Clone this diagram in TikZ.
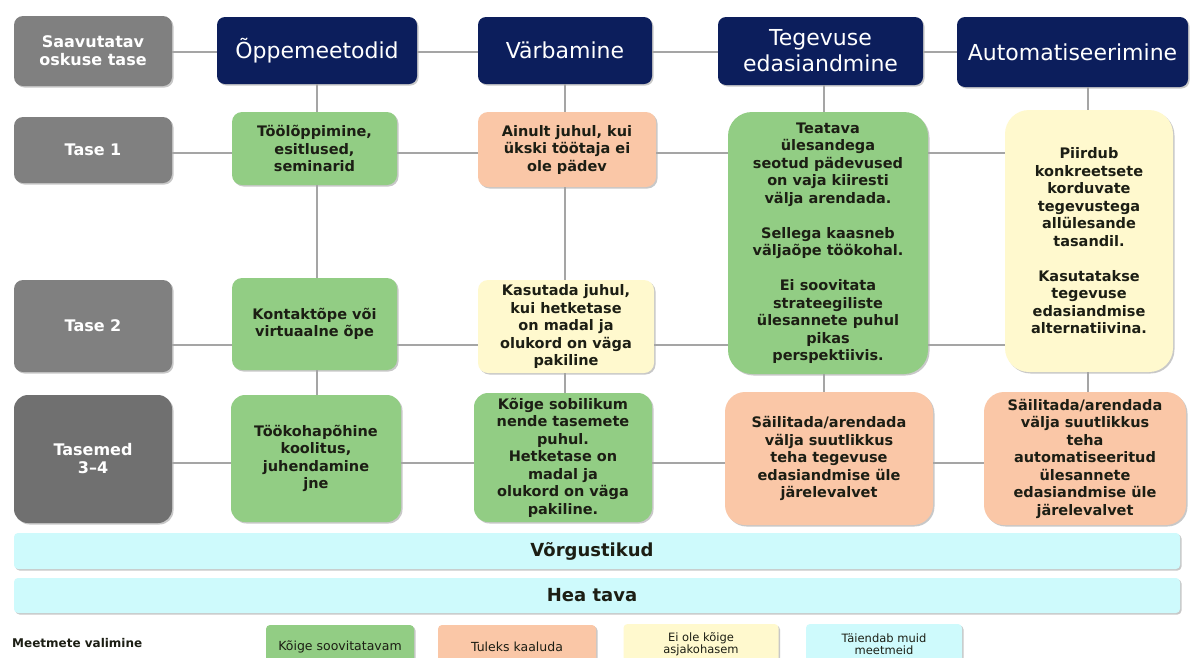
\documentclass[tikz,border=0pt]{standalone}
\usepackage{fontspec}
\setmainfont{DejaVu Sans}
\usetikzlibrary{shadows}
\definecolor{gbox}{RGB}{128,128,128}
\definecolor{gboxd}{RGB}{112,112,112}
\definecolor{navy}{RGB}{12,30,92}
\definecolor{cgr}{RGB}{146,205,132}
\definecolor{cpe}{RGB}{250,199,167}
\definecolor{cye}{RGB}{255,249,206}
\definecolor{ccy}{RGB}{206,250,252}
\definecolor{linec}{RGB}{165,165,165}
\definecolor{txt}{RGB}{28,30,20}
\begin{document}
\begin{tikzpicture}[x=1pt,y=-1pt,
  shad/.style={drop shadow={shadow xshift=1.5pt,shadow yshift=-1.5pt,opacity=0.3,fill=black!70}},
  lbl/.style={shad,rounded corners=9pt,fill=gbox,text=white,font=\bfseries\fontsize{16}{18}\selectfont,align=center,inner sep=0pt},
  hdr/.style={shad,rounded corners=8pt,fill=navy,text=white,font=\fontsize{22}{26}\selectfont,align=center,inner sep=0pt},
  cell/.style={shad,rounded corners=10pt,font=\bfseries\fontsize{14.5}{17.5}\selectfont,text=txt,align=center,inner sep=0pt},
  cellg/.style={cell,fill=cgr},
  cellp/.style={cell,fill=cpe},
  celly/.style={cell,fill=cye},
  bar/.style={shad,rounded corners=4pt,fill=ccy,text=txt,font=\bfseries\fontsize{18}{20}\selectfont,inner sep=0pt},
  leg/.style={shad,rounded corners=4pt,text=txt,font=\fontsize{12.5}{13}\selectfont,align=center,inner sep=0pt},
  leg2/.style={leg,font=\fontsize{11.5}{11.5}\selectfont},
  conn/.style={draw=linec,line width=1.4pt}]
\useasboundingbox (0,0) rectangle (1193,657);
\clip (0,0) rectangle (1193,657);
\fill[white] (0,0) rectangle (1193,657);

% row labels
\node[lbl,minimum width=158pt,minimum height=70pt] (g0) at (93,51) {Saavutatav\\oskuse tase};
\node[lbl,minimum width=158pt,minimum height=66pt] (g1) at (93,150) {Tase 1};
\node[lbl,minimum width=158pt,minimum height=92pt] (g2) at (93,326) {Tase 2};
\node[lbl,fill=gboxd,rounded corners=14pt,minimum width=158pt,minimum height=128pt] (g3) at (93,459) {Tasemed\\3--4};

% headers
\node[hdr,minimum width=200pt,minimum height=67pt] (h1) at (317,50.5) {Õppemeetodid};
\node[hdr,minimum width=174pt,minimum height=67pt] (h2) at (565,50.5) {Värbamine};
\node[hdr,minimum width=205pt,minimum height=68pt] (h3) at (820.5,51) {Tegevuse\\edasiandmine};
\node[hdr,minimum width=231pt,minimum height=70pt] (h4) at (1072.5,52) {Automatiseerimine};

% column 1
\node[cellg,minimum width=165pt,minimum height=73pt] (c11) at (314.5,148.5) {Töölõppimine,\\esitlused,\\seminarid};
\node[cellg,minimum width=165pt,minimum height=92pt] (c12) at (314.5,324) {Kontaktõpe või\\virtuaalne õpe};
\node[cellg,rounded corners=14pt,minimum width=170pt,minimum height=127pt] (c13) at (316,458.5) {Töökohapõhine\\koolitus,\\juhendamine\\jne};

% column 2
\node[cellp,minimum width=178pt,minimum height=75pt] (c21) at (567,149.5) {Ainult juhul, kui\\ükski töötaja ei\\ole pädev};
\node[celly,minimum width=176pt,minimum height=93pt] (c22) at (566,326.5) {Kasutada juhul,\\kui hetketase\\on madal ja\\olukord on väga\\pakiline};
\node[cellg,rounded corners=14pt,minimum width=178pt,minimum height=129pt] (c23) at (563,457.5) {Kõige sobilikum\\nende tasemete\\puhul.\\Hetketase on\\madal ja\\olukord on väga\\pakiline.};

% column 3
\node[cellg,rounded corners=24pt,minimum width=200pt,minimum height=262pt] (c31) at (828,243) {Teatava\\ülesandega\\seotud pädevused\\on vaja kiiresti\\välja arendada.\\[17.5pt]Sellega kaasneb\\väljaõpe töökohal.\\[17.5pt]Ei soovitata\\strateegiliste\\ülesannete puhul\\pikas\\perspektiivis.};
\node[cellp,rounded corners=20pt,minimum width=208pt,minimum height=133pt] (c33) at (829,458.5) {Säilitada/arendada\\välja suutlikkus\\teha tegevuse\\edasiandmise üle\\järelevalvet};

% column 4
\node[celly,rounded corners=24pt,minimum width=168pt,minimum height=262pt] (c41) at (1089,241) {Piirdub\\konkreetsete\\korduvate\\tegevustega\\allülesande\\tasandil.\\[17.5pt]Kasutatakse\\tegevuse\\edasiandmise\\alternatiivina.};
\node[cellp,rounded corners=20pt,minimum width=202pt,minimum height=133pt] (c43) at (1085,458.5) {Säilitada/arendada\\välja suutlikkus\\teha\\automatiseeritud\\ülesannete\\edasiandmise üle\\järelevalvet};

% row coordinates
\coordinate (r0) at (0,52);
\coordinate (r1) at (0,153);
\coordinate (r2) at (0,345);
\coordinate (r3) at (0,463);
\coordinate (k1) at (317,0);
\coordinate (k2) at (565,0);
\coordinate (k3) at (824,0);
\coordinate (k4) at (1088,0);

% horizontal connectors
\draw[conn] (g0.east |- r0) -- (h1.west |- r0);
\draw[conn] (h1.east |- r0) -- (h2.west |- r0);
\draw[conn] (h2.east |- r0) -- (h3.west |- r0);
\draw[conn] (h3.east |- r0) -- (h4.west |- r0);
\draw[conn] (g1.east |- r1) -- (c11.west |- r1);
\draw[conn] (c11.east |- r1) -- (c21.west |- r1);
\draw[conn] (c21.east |- r1) -- (c31.west |- r1);
\draw[conn] (c31.east |- r1) -- (c41.west |- r1);
\draw[conn] (g2.east |- r2) -- (c12.west |- r2);
\draw[conn] (c12.east |- r2) -- (c22.west |- r2);
\draw[conn] (c22.east |- r2) -- (c31.west |- r2);
\draw[conn] (c31.east |- r2) -- (c41.west |- r2);
\draw[conn] (g3.east |- r3) -- (c13.west |- r3);
\draw[conn] (c13.east |- r3) -- (c23.west |- r3);
\draw[conn] (c23.east |- r3) -- (c33.west |- r3);
\draw[conn] (c33.east |- r3) -- (c43.west |- r3);
% vertical connectors
\draw[conn] (k1 |- h1.south) -- (k1 |- c11.north);
\draw[conn] (k1 |- c11.south) -- (k1 |- c12.north);
\draw[conn] (k1 |- c12.south) -- (k1 |- c13.north);
\draw[conn] (k2 |- h2.south) -- (k2 |- c21.north);
\draw[conn] (k2 |- c21.south) -- (k2 |- c22.north);
\draw[conn] (k2 |- c22.south) -- (k2 |- c23.north);
\draw[conn] (k3 |- h3.south) -- (k3 |- c31.north);
\draw[conn] (k3 |- c31.south) -- (k3 |- c33.north);
\draw[conn] (k4 |- h4.south) -- (k4 |- c41.north);
\draw[conn] (k4 |- c41.south) -- (k4 |- c43.north);

% bars
\node[bar,minimum width=1166pt,minimum height=36pt] (b1) at (597,551) {\hspace*{-10pt}Võrgustikud};
\node[bar,minimum width=1166pt,minimum height=35pt] (b2) at (597,595.5) {\hspace*{-10pt}Hea tava};

% legend
\node[anchor=west,text=txt,font=\bfseries\fontsize{12}{14}\selectfont,inner sep=0pt] (lt) at (12,643) {Meetmete valimine};
\node[leg,fill=cgr,minimum width=148pt,minimum height=44pt] (l1) at (340,647) {Kõige soovitatavam};
\node[leg,fill=cpe,minimum width=158pt,minimum height=44pt] (l2) at (517,647) {Tuleks kaaluda};
\node[leg2,fill=cye,minimum width=155pt,minimum height=40pt] (l3) at (701,644) {Ei ole kõige\\asjakohasem};
\node[leg2,fill=ccy,minimum width=156pt,minimum height=40pt] (l4) at (884,644) {Täiendab muid\\meetmeid};
\end{tikzpicture}
\end{document}
